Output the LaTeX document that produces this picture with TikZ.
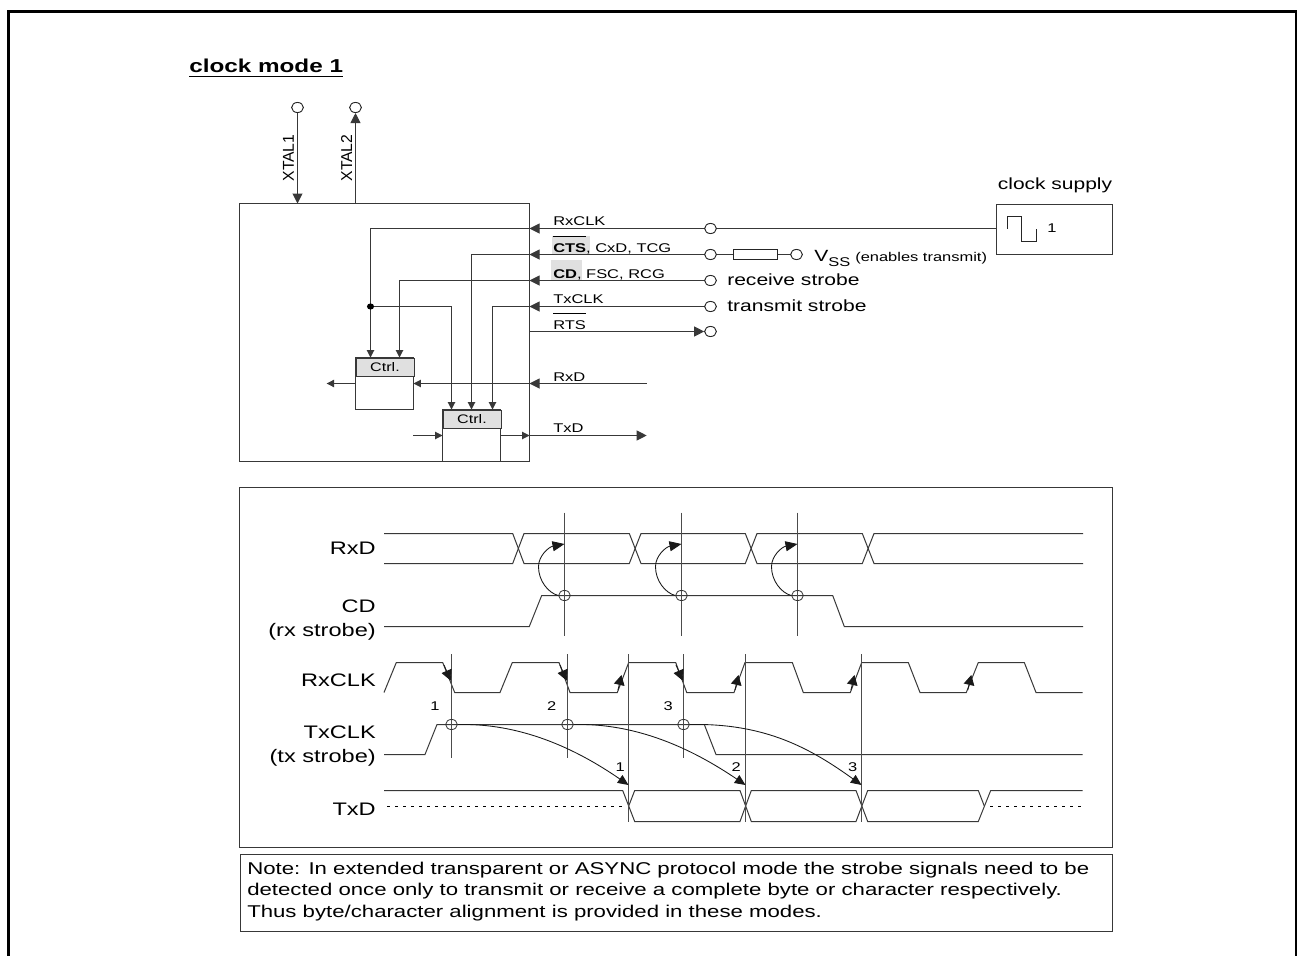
\documentclass[tikz,border=0pt]{standalone}
\usepackage{fontspec}
\setmainfont[FakeStretch=1.3]{Liberation Sans}
\newfontfamily\plainfont{Liberation Sans}
\usetikzlibrary{arrows.meta,shapes.geometric}
\newcommand\ovl[1]{\setbox0=\hbox{#1}\rlap{\vrule height 12.2pt depth -11.5pt width \wd0}\box0}
\tikzset{
 wire/.style={line width=0.75pt,color=black!78},
 big/.style={-{Triangle[length=7.5pt,width=7.5pt]}},
 small/.style={-{Triangle[length=5.5pt,width=5.5pt]}},
 pin/.style={ellipse,draw=black!85,line width=0.7pt,fill=white,minimum width=8.8pt,minimum height=7.6pt,inner sep=0pt},
 junction/.style={ellipse,fill=black,minimum width=5.4pt,minimum height=4.6pt,inner sep=0pt},
 xcircle/.style={ellipse,draw=black!80,line width=0.6pt,minimum width=8.8pt,minimum height=7.6pt,inner sep=0pt},
 lab/.style={font=\fontsize{9.5pt}{12pt}\selectfont,inner sep=0pt,anchor=base west},
 siglab/.style={font=\fontsize{13.6pt}{18pt}\selectfont,inner sep=0pt,anchor=east,align=right},
 pinlab/.style={font=\fontsize{12.15pt}{16pt}\selectfont,inner sep=0pt,anchor=base west},
 num/.style={font=\fontsize{9.5pt}{11pt}\selectfont,inner sep=0pt},
 head/.style={draw=black!78,line width=0.75pt,fill=black!12,font=\fontsize{9.3pt}{12pt}\selectfont,inner sep=0pt,anchor=north west},
 rotlab/.style={rotate=90,font=\plainfont\fontsize{11.8pt}{14pt}\selectfont,inner sep=0pt},
 marker/.style={line width=0.75pt,color=black!70},
 curve/.style={line width=0.65pt,color=black!90},
 dots/.style={line width=0.75pt,dash pattern=on 2.2pt off 3.8pt},
 shade/.style={fill=black!12,draw=none,inner sep=0pt,anchor=north west}
}
\begin{document}
\begin{tikzpicture}[x=0.75pt,y=-0.75pt]
\useasboundingbox (0,0) rectangle (1297,956);
\fill[white] (0,0) rectangle (1297,956);
\draw[line width=1.9pt] (8.5,956) -- (8.5,11.5) -- (1296,11.5) -- (1296,956);
\node[inner sep=0pt,anchor=base west,font=\fontsize{14pt}{16pt}\selectfont\bfseries] (title) at (189,72.7) {clock mode 1};
\draw[line width=1.1pt] (title.base west) ++(0,3.6) -- ++(154,0);
% main block
\draw[wire] (239.5,203.5) rectangle (529.5,461.5);
\node[pin] (x1) at (297.5,107.5) {};
\node[pin] (x2) at (355.5,107.5) {};
\coordinate (x1b) at (297.5,203.5);
\coordinate (x2b) at (355.5,203.5);
\draw[wire,big] (x1) -- (x1b);
\draw[wire,big] (x2b) -- (x2);
\node[rotlab] (xl1) at (288.5,158) {XTAL1};
\node[rotlab] (xl2) at (346.7,158) {XTAL2};
% grey backgrounds of the bold names
\node[shade,minimum width=28.2pt,minimum height=13pt] (s2) at (551.7,236) {};
\node[shade,minimum width=23pt,minimum height=15pt] (s3) at (551,260) {};
% ctrl blocks
\draw[wire] (355.5,357.5) rectangle (413.5,409.5);
\node[head,minimum width=43.5pt,minimum height=13.8pt] (c1) at (355.5,357.5) {Ctrl.};
\draw[wire] (442.5,409.5) rectangle (500.5,461.5);
\node[head,minimum width=43.5pt,minimum height=13.5pt] (c2) at (442.5,409.5) {Ctrl.};
% pins on the right
\node[pin] (p1) at (710.5,228.5) {};
\node[pin] (p2) at (710.5,254.5) {};
\node[pin] (p3) at (710.5,280.5) {};
\node[pin] (p4) at (710.5,306.5) {};
\node[pin] (p5) at (710.5,331.5) {};
\node[pin] (p6) at (796.5,254.5) {};
\node[draw=black!85,line width=0.85pt,fill=white,minimum width=33.5pt,minimum height=8pt,inner sep=0pt] (res) at (755.5,254.5) {};
\node[draw=black!78,line width=0.75pt,minimum width=87pt,minimum height=38pt,inner sep=0pt,anchor=north west] (sup) at (995.5,203.5) {};
% wires
\coordinate (e1) at (529.5,228.5);\coordinate (e2) at (529.5,254.5);\coordinate (e3) at (529.5,280.5);\coordinate (e4) at (529.5,306.5);\coordinate (e5) at (529.5,331.5);
\coordinate (rxin) at (646.7,383.5);\coordinate (rxe) at (529.5,383.5);
\coordinate (txe) at (529.5,435.5);\coordinate (txout) at (646.7,435.5);
\draw[wire] (p1) -- (sup.west |- p1);
\draw[wire] (p2) -- (res) -- (p6);
\draw[wire,big] (p1) -- (e1);
\draw[wire,big] (p2) -- (e2);
\draw[wire,big] (p3) -- (e3);
\draw[wire,big] (p4) -- (e4);
\draw[wire,big] (e5) -- (p5);
\draw[wire,big] (rxin) -- (rxe);
\draw[wire,big] (txe) -- (txout);
% internal
\draw[wire,small] (e1) -- (370.5,228.5) -- (370.5,357.5);
\draw[wire,small] (e3) -- (399.5,280.5) -- (399.5,357.5);
\node[junction] (j) at (370.5,306.5) {};
\draw[wire,small] (j) -- (451.5,306.5) -- (451.5,409.5);
\draw[wire,small] (e2) -- (471.5,254.5) -- (471.5,409.5);
\draw[wire,small] (e4) -- (492.5,306.5) -- (492.5,409.5);
\draw[wire,small] (rxe) -- (413.5,383.5);
\draw[wire,small] (355.5,383.5) -- (326.7,383.5);
\draw[wire,small] (413,435.5) -- (442.5,435.5);
\draw[wire,small] (500.5,435.5) -- (txe);
% labels
\node[lab] (l1) at (553,225.7) {RxCLK};
\node[lab] (l2) at (553,252) {\ovl{\bfseries CTS}, CxD, TCG};
\node[lab] (l3) at (553,278.3) {\textbf{CD}, FSC, RCG};
\node[lab] (l4) at (553,303.3) {TxCLK};
\node[lab] (l5) at (553,329) {\ovl{RTS}};
\node[lab] (l6) at (553,381) {RxD};
\node[lab] (l7) at (553,432) {TxD};
\node[pinlab] (v) at (814,261.7) {V\raisebox{-3.3pt}{\fontsize{9.5pt}{12pt}\selectfont SS}};
\node[lab] (ve) at (855,261.7) {(enables transmit)};
\node[pinlab] (rs) at (727,285.7) {receive strobe};
\node[pinlab] (ts) at (727,311.7) {transmit strobe};
\node[font=\fontsize{12.1pt}{15pt}\selectfont,inner sep=0pt,anchor=base] (cs) at (1055,189.3) {clock supply};
\draw[line width=0.75pt,color=black!85] (1007.5,228.5) -- (1007.5,216.5) -- (1021.5,216.5) -- (1021.5,241.5) -- (1036.5,241.5) -- (1036.5,228.5);
\node[num] (one) at (1052,228) {1};
% timing panel
\draw[wire] (239.5,487.5) rectangle (1112.5,847.5);
\node[draw=black!78,line width=0.75pt,minimum width=654.7pt,minimum height=58.3pt,inner sep=0pt,anchor=north west] (note) at (239.5,853.5) {};
\node[inner sep=0pt,anchor=north west,align=left,font=\fontsize{12.8pt}{16pt}\selectfont] (notet) at (247,862) {Note: In extended transparent or ASYNC protocol mode the strobe signals need to be\\detected once only to transmit or receive a complete byte or character respectively.\\Thus byte/character alignment is provided in these modes.};
% signal labels
\node[siglab] (a) at (376,548) {RxD};
\node[siglab] (b) at (376,620) {CD\\(rx strobe)};
\node[siglab] (cc) at (376,680) {RxCLK};
\node[siglab] (d) at (376,746) {TxCLK\\(tx strobe)};
\node[siglab] (ee) at (376,809) {TxD};
% RxD
\draw[wire] (384,533.5) -- (512.7,533.5) -- (524,563.5) -- (629.3,563.5) -- (641,533.5) -- (745.3,533.5) -- (757,563.5) -- (862.3,563.5) -- (874,533.5) -- (1083,533.5);
\draw[wire] (384,563.5) -- (512.7,563.5) -- (524,533.5) -- (629.3,533.5) -- (641,563.5) -- (745.3,563.5) -- (757,533.5) -- (862.3,533.5) -- (874,563.5) -- (1083,563.5);
% CD
\draw[wire] (384,626.5) -- (529.3,626.5) -- (541.7,595.5) -- (832.7,595.5) -- (844.3,626.5) -- (1083,626.5);
% RxCLK
\draw[wire] (384,692.5) -- (396.3,662.5) -- (442.7,662.5) -- (454.7,692.5) -- (500,692.5) -- (512.3,662.5) -- (559,662.5) -- (570,692.5) -- (617.3,692.5) -- (628.7,662.5) -- (675.7,662.5) -- (686.7,692.5) -- (734,692.5) -- (745,662.5) -- (792.3,662.5) -- (803.3,692.5) -- (850.3,692.5) -- (861.7,662.5) -- (908.3,662.5) -- (920,692.5) -- (966.3,692.5) -- (978.3,662.5) -- (1024.3,662.5) -- (1036,692.5) -- (1082.7,692.5);
% TxCLK
\draw[wire] (384,754.5) -- (425,754.5) -- (437,724.5) -- (704.3,724.5) -- (716,754.5) -- (1082.7,754.5);
% TxD
\draw[wire] (384,790.5) -- (622.7,790.5) -- (634.7,821.5) -- (740,821.5) -- (751.3,790.5) -- (856,790.5) -- (867.7,821.5) -- (978.3,821.5) -- (990.7,790.5) -- (1082.7,790.5);
\draw[wire] (628.7,806) -- (634.7,790.5) -- (740,790.5) -- (751.3,821.5) -- (856,821.5) -- (867.7,790.5) -- (978.3,790.5) -- (984.3,806);
\draw[dots] (387,806.5) -- (623,806.5);
\draw[dots] (990,806.5) -- (1082.7,806.5);
% marker lines
\draw[marker] (564.5,512.7) -- (564.5,636);
\draw[marker] (681.5,512.7) -- (681.5,636);
\draw[marker] (797.5,512.7) -- (797.5,636);
\draw[marker] (451.5,654) -- (451.5,757.7);
\draw[marker] (567.5,654) -- (567.5,757.7);
\draw[marker] (683.5,654) -- (683.5,757.7);
\draw[marker] (628.5,654) -- (628.5,822);
\draw[marker] (745.5,654) -- (745.5,822);
\draw[marker] (861.5,654) -- (861.5,822);
% strobe sample points
\node[xcircle] (r1) at (564.5,595.5) {};
\node[xcircle] (r2) at (681.5,595.5) {};
\node[xcircle] (r3) at (797.5,595.5) {};
\node[xcircle] (t1) at (451.5,724.5) {};
\node[xcircle] (t2) at (567.5,724.5) {};
\node[xcircle] (t3) at (683.5,724.5) {};
% curved arrows CD -> RxD
\foreach \n/\X in {r1/564.5,r2/681.5,r3/797.5}{
  \coordinate (\n tip) at (\X,544);
  \draw[curve,-{Triangle[length=9pt,width=7.5pt]}] (\n.west) .. controls ({\X-16},593) and ({\X-26},581) .. ({\X-26},566.7) .. controls ({\X-26},556) and ({\X-16},547) .. (\n tip);
}
% clock edge arrows
\foreach \X in {451.5,567.5,683.5}{
  \draw[curve,-{Triangle[length=8pt,width=8pt]}] ({\X-7.5},665) -- ({\X-0.7},680.7);
}
\foreach \X in {628.5,745.5,861.5,978.3}{
  \draw[curve,-{Triangle[length=7.5pt,width=8pt]}] ({\X-10.5},690) -- ({\X-7},675);
}
% drop arrows
\coordinate (d1) at (628.5,785);
\coordinate (d2) at (745.5,785);
\coordinate (d3) at (861.5,785);
\draw[curve,-{Triangle[length=8pt,width=7pt]}] (t1.east) .. controls (520,723) and (575,748) .. (d1);
\draw[curve,-{Triangle[length=8pt,width=7pt]}] (t2.east) .. controls (636,723) and (691,748) .. (d2);
\draw[curve,-{Triangle[length=8pt,width=7pt]}] (t3.east) .. controls (765,723) and (810,748) .. (d3);
% numbers
\node[num] (n1) at (435,706.3) {1};
\node[num] (n2) at (551.7,706.3) {2};
\node[num] (n3) at (668.3,706.3) {3};
\node[num] (m1) at (620.3,767.3) {1};
\node[num] (m2) at (736.3,767.3) {2};
\node[num] (m3) at (852.7,767.3) {3};
\end{tikzpicture}
\end{document}
